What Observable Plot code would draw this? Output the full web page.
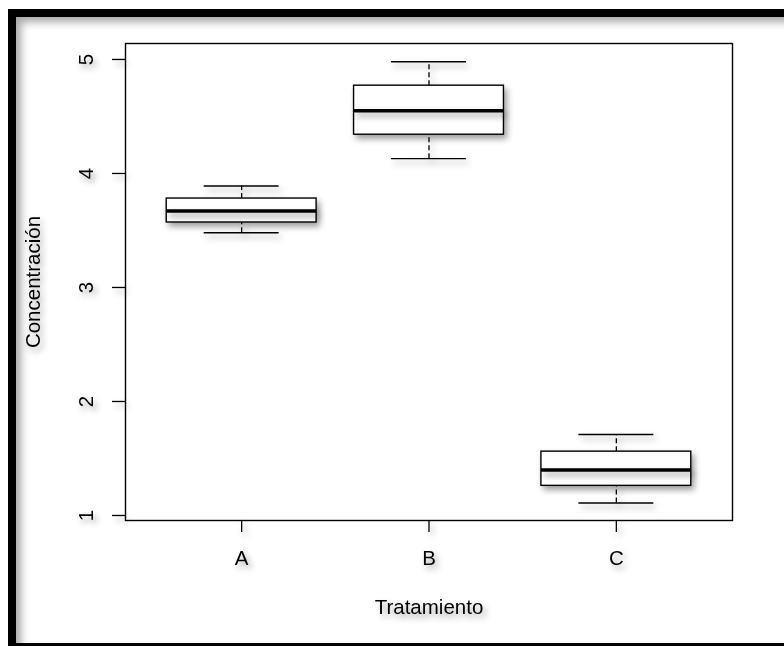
<!DOCTYPE html>
<html>
<head>
<meta charset="utf-8">
<script src="https://cdn.jsdelivr.net/npm/d3@7"></script>
<script src="https://cdn.jsdelivr.net/npm/@observablehq/plot@0.6"></script>
<style>
  html, body { margin: 0; padding: 0; background: #fff; }
  #wrap { position: relative; width: 784px; height: 646px; overflow: hidden; }
  #wrap svg { position: absolute; left: 0; top: 0; }
  #wrap svg > g { filter: drop-shadow(3px 4px 3px rgba(0,0,0,0.38)); }
  #border {
    position: absolute; left: 8px; top: 9px; width: 776px; height: 637px;
    box-sizing: border-box;
    border-top: 8px solid #000; border-left: 8px solid #000; border-bottom: 3px solid #000;
    box-shadow: inset 7px 7px 8px -2px rgba(0,0,0,0.35);
    pointer-events: none;
  }
</style>
</head>
<body>
<div id="wrap"><div id="border"></div></div>
<script>
// Data
const categories  = ["A", "B", "C"];
const whiskerLow  = [3.48, 4.13, 1.11];
const q1          = [3.57, 4.34, 1.26];
const median      = [3.67, 4.55, 1.40];
const q3          = [3.78, 4.77, 1.56];
const whiskerHigh = [3.89, 4.98, 1.71];
const yTicks      = [1, 2, 3, 4, 5];
const xTitle = "Tratamiento";
const yTitle = "Concentración";

const rows = categories.map((c, i) => ({
  cat: c, pos: i + 1,
  lo: whiskerLow[i], q1: q1[i], med: median[i], q3: q3[i], hi: whiskerHigh[i]
}));

const FS = 20.5;
const font = "'Liberation Sans', Arial, sans-serif";

const chart = Plot.plot({
  width: 784,
  height: 646,
  marginLeft: 125,
  marginRight: 52,
  marginTop: 43,
  marginBottom: 126,
  style: { fontFamily: font, fontSize: FS + "px", background: "transparent", color: "#000" },
  x: { domain: [0.38, 3.62], axis: null },
  y: { domain: [0.956, 5.14], axis: null },
  marks: [
    Plot.frame({ stroke: "#000", strokeWidth: 1.4 }),
    // y axis ticks and labels
    Plot.axisY({ ticks: yTicks, tickSize: 13, tickFormat: () => "", label: null, strokeWidth: 1.3 }),
    Plot.text(yTicks, { y: d => d, text: d => String(d), frameAnchor: "left", textAnchor: "middle", dx: -39, rotate: -90, fontSize: FS, fill: "#000" }),
    // x axis ticks and labels
    Plot.axisX({ ticks: rows.map(d => d.pos), tickSize: 12, tickFormat: () => "", label: null, strokeWidth: 1.3 }),
    Plot.text(rows, { x: "pos", text: "cat", frameAnchor: "bottom", dy: 38, lineAnchor: "middle", fontSize: FS, fill: "#000" }),
    // titles
    Plot.text([xTitle], { text: d => d, frameAnchor: "bottom", dy: 87, lineAnchor: "middle", fontSize: FS, fill: "#000" }),
    Plot.text([yTitle], { text: d => d, frameAnchor: "left", textAnchor: "middle", dx: -92, rotate: -90, fontSize: FS, fill: "#000" }),
    // whiskers (dashed)
    Plot.ruleX(rows, { x: "pos", y1: "q3", y2: "hi", stroke: "#000", strokeWidth: 1.3, strokeDasharray: "5,3" }),
    Plot.ruleX(rows, { x: "pos", y1: "lo", y2: "q1", stroke: "#000", strokeWidth: 1.3, strokeDasharray: "5,3" }),
    // whisker caps
    Plot.ruleY(rows, { y: "hi", x1: d => d.pos - 0.2, x2: d => d.pos + 0.2, stroke: "#000", strokeWidth: 1.4 }),
    Plot.ruleY(rows, { y: "lo", x1: d => d.pos - 0.2, x2: d => d.pos + 0.2, stroke: "#000", strokeWidth: 1.4 }),
    // boxes
    Plot.rect(rows, { x1: d => d.pos - 0.4, x2: d => d.pos + 0.4, y1: "q1", y2: "q3", fill: "#fff", stroke: "#000", strokeWidth: 1.4 }),
    // medians
    Plot.ruleY(rows, { y: "med", x1: d => d.pos - 0.4, x2: d => d.pos + 0.4, stroke: "#000", strokeWidth: 3.5 })
  ]
});
document.getElementById("wrap").insertBefore(chart, document.getElementById("border"));
</script>
</body>
</html>
